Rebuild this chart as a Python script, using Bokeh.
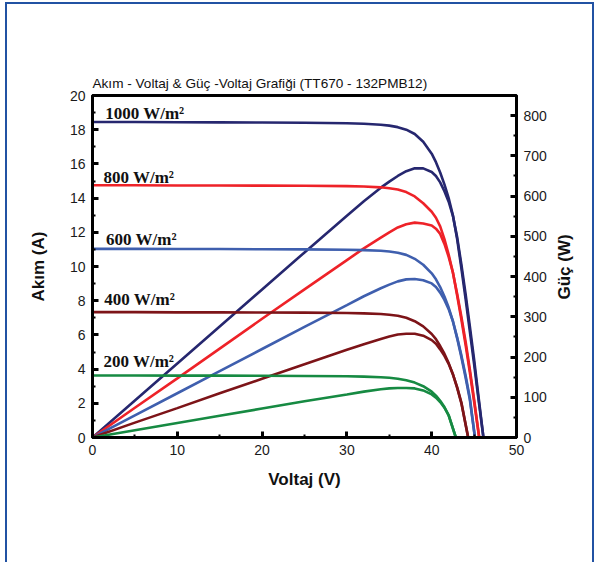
import math
from bokeh.plotting import figure
from bokeh.models import LinearAxis, Range1d, SingleIntervalTicker, FixedTicker, ColumnDataSource
from bokeh.embed import file_html
from bokeh.resources import INLINE
from bokeh.core.properties import value

# ---------------- data ----------------
V1000 = [0, 5, 10, 15, 20, 25, 30, 32, 34, 35, 36, 37, 38, 39, 40, 40.5, 41, 41.5, 42, 42.5, 43, 43.5, 44, 44.5, 45, 45.5, 46.1]
I1000 = [18.45, 18.45, 18.44, 18.43, 18.42, 18.41, 18.38, 18.35, 18.29, 18.24, 18.15, 18.0, 17.75, 17.3, 16.6, 16.1, 15.5, 14.8, 14.0, 13.0, 11.6, 9.9, 8.1, 6.2, 4.3, 2.3, 0]
P1000 = [0, 92, 184, 276, 368, 460, 551, 587, 621, 636, 650, 662, 669, 669, 660, 650, 634, 612, 586, 551, 498, 430, 356, 276, 194, 105, 0]

V800 = [0, 5, 10, 15, 20, 25, 30, 32, 34, 35, 36, 37, 38, 39, 40, 40.5, 41, 41.5, 42, 42.5, 43, 43.5, 44, 44.5, 45, 45.6]
I800 = [14.75, 14.75, 14.74, 14.74, 14.73, 14.72, 14.7, 14.68, 14.63, 14.58, 14.5, 14.35, 14.1, 13.7, 13.2, 12.85, 12.35, 11.6, 10.7, 9.65, 8.3, 6.9, 5.4, 3.8, 2.1, 0]
P800 = [0, 74, 147, 221, 295, 368, 441, 470, 497, 510, 522, 530, 534, 532, 527, 519, 506, 481, 449, 410, 357, 300, 238, 169, 95, 0]

V600 = [0, 5, 10, 15, 20, 25, 30, 32, 34, 35, 36, 37, 38, 39, 40, 40.5, 41, 41.5, 42, 42.5, 43, 43.5, 44, 44.5, 45.1]
I600 = [11.03, 11.03, 11.02, 11.02, 11.01, 11.0, 10.98, 10.96, 10.92, 10.88, 10.8, 10.68, 10.45, 10.1, 9.6, 9.25, 8.8, 8.25, 7.6, 6.8, 5.8, 4.7, 3.5, 2.2, 0]
P600 = [0, 55, 110, 165, 220, 275, 329, 351, 371, 380, 388, 393, 394, 391, 383, 374, 360, 342, 319, 289, 249, 204, 154, 98, 0]

V400 = [0, 5, 10, 15, 20, 25, 30, 32, 34, 35, 36, 37, 38, 39, 40, 40.5, 41, 41.5, 42, 42.5, 43, 43.5, 44.3]
I400 = [7.33, 7.33, 7.32, 7.32, 7.31, 7.3, 7.28, 7.26, 7.22, 7.18, 7.12, 7.0, 6.8, 6.5, 6.05, 5.75, 5.35, 4.9, 4.35, 3.7, 2.9, 2.0, 0]
P400 = [0, 37, 73, 110, 146, 182, 218, 232, 245, 251, 256, 258, 258, 253, 242, 233, 219, 203, 183, 157, 125, 87, 0]

V200 = [0, 5, 10, 15, 20, 25, 30, 32, 34, 35, 36, 37, 38, 39, 40, 40.5, 41, 41.5, 42, 42.85]
I200 = [3.63, 3.63, 3.62, 3.62, 3.61, 3.6, 3.58, 3.56, 3.52, 3.49, 3.44, 3.35, 3.21, 3.0, 2.68, 2.45, 2.15, 1.78, 1.3, 0]
P200 = [0, 18, 36, 54, 72, 90, 107, 114, 120, 122, 123, 123, 122, 117, 107, 99, 88, 74, 55, 0]

series_labels = ["1000 W/m²", "800 W/m²", "600 W/m²", "400 W/m²", "200 W/m²"]
label_x = [1.5, 1.3, 1.6, 1.4, 1.3]
label_y = [18.95, 15.2, 11.55, 8.05, 4.45]

colors = ["#26276f", "#ee2228", "#3f5fae", "#7d1418", "#168a42"]

# ---------------- figure ----------------
p = figure(width=589, height=560,
           x_range=Range1d(0, 50), y_range=Range1d(0, 20),
           output_backend="svg", toolbar_location=None,
           min_border_left=85, min_border_right=80,
           min_border_top=91, min_border_bottom=127,
           title="Akım - Voltaj & Güç -Voltaj Grafiği (TT670 - 132PMB12)")
p.styles = {"border-left": "2px solid #2152a3", "border-top": "2px solid #2152a3",
            "border-right": "2px solid #2152a3",
            "margin-left": "5px", "margin-top": "2px"}

p.title.align = "left"
p.title.text_font = "Liberation Sans"
p.title.text_font_style = "normal"
p.title.text_font_size = "13.6px"
p.title.text_color = "#111111"
p.title.standoff = 9

p.xgrid.visible = False
p.ygrid.visible = False
p.outline_line_color = "black"
p.outline_line_width = 3

p.extra_y_ranges = {"pw": Range1d(0, 850)}
raxis = LinearAxis(y_range_name="pw")
p.add_layout(raxis, "right")

p.xaxis.ticker = SingleIntervalTicker(interval=10, num_minor_ticks=2)
p.yaxis[0].ticker = SingleIntervalTicker(interval=2, num_minor_ticks=2)
raxis.ticker = SingleIntervalTicker(interval=100, num_minor_ticks=2)
p.xaxis.axis_label = "Voltaj (V)"
p.yaxis[0].axis_label = "Akım (A)"

for ax in [p.xaxis[0], p.yaxis[0], raxis]:
    ax.axis_line_width = 3
    ax.axis_line_color = "black"
    ax.major_tick_in = 6
    ax.major_tick_out = 0
    ax.minor_tick_in = 3
    ax.minor_tick_out = 0
    ax.major_tick_line_width = 3
    ax.minor_tick_line_width = 2
    ax.major_label_text_font = "Liberation Sans"
    ax.major_label_text_font_size = "14px"
    ax.major_label_text_color = "#1a1a1a"
    ax.major_label_standoff = 7
    ax.axis_label_text_font = "Liberation Sans"
    ax.axis_label_text_font_style = "bold"
    ax.axis_label_text_font_size = "17px"
    ax.axis_label_text_color = "#111111"
p.xaxis.axis_label_standoff = 12
p.yaxis[0].axis_label_standoff = 19

# right-hand axis title "Güç (W)", reading bottom-to-top, centred on the frame
title_pos = 343
rtitle = LinearAxis(y_range_name="pw", ticker=FixedTicker(ticks=[title_pos]),
                    major_label_overrides={title_pos: "Güç (W)"},
                    major_label_orientation=math.pi / 2,
                    axis_line_alpha=0, major_tick_in=0, major_tick_out=0,
                    minor_tick_in=0, minor_tick_out=0,
                    major_label_standoff=15,
                    major_label_text_font="Liberation Sans",
                    major_label_text_font_style="bold",
                    major_label_text_font_size="17px",
                    major_label_text_color="#111111")
p.add_layout(rtitle, "right")

curves = [(V1000, I1000, P1000), (V800, I800, P800), (V600, I600, P600),
          (V400, I400, P400), (V200, I200, P200)]
for (v, i, pw), c in zip(curves, colors):
    p.line(v, i, line_color=c, line_width=2.6)
    p.line(v, pw, line_color=c, line_width=2.6, y_range_name="pw")

src = ColumnDataSource(dict(x=label_x, y=label_y, t=series_labels))
p.text(x="x", y="y", text="t", source=src, text_font=value("Liberation Serif"),
       text_font_style="bold", text_font_size="17px", text_color="#111111",
       text_baseline="alphabetic", text_align="left")

open("out.html", "w").write(file_html(p, INLINE))
